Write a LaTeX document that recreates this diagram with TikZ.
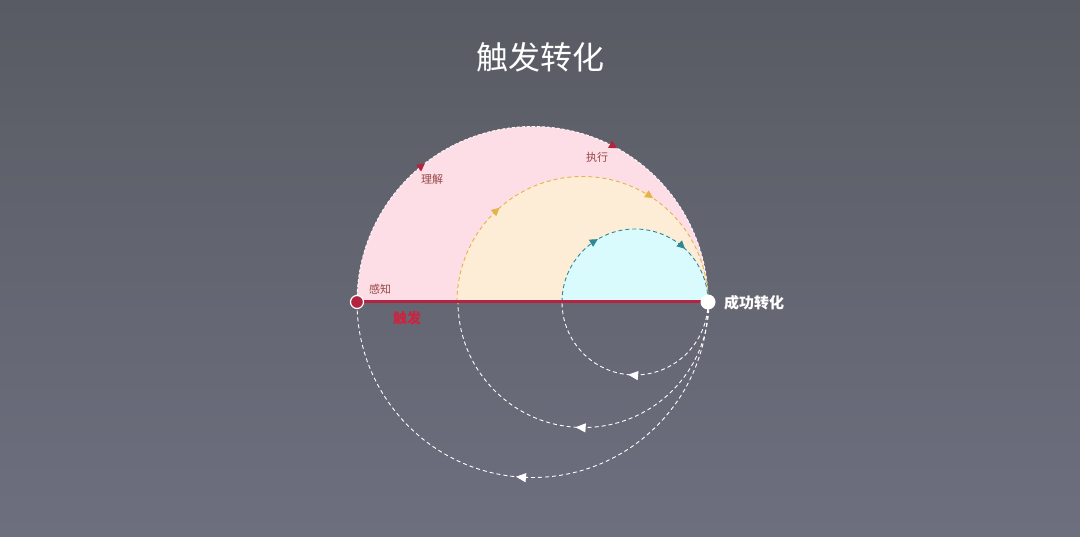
\documentclass[tikz,border=0pt]{standalone}
\usepackage{fontspec}
\setmainfont{Noto Sans CJK SC}
\usetikzlibrary{decorations.markings,arrows.meta}
\definecolor{bgtop}{RGB}{89,91,99}
\definecolor{bgbot}{RGB}{109,111,127}
\definecolor{pinkf}{RGB}{253,222,230}
\definecolor{yelf}{RGB}{253,237,214}
\definecolor{cyanf}{RGB}{218,251,253}
\definecolor{crim}{RGB}{178,36,64}
\definecolor{gold}{RGB}{228,180,70}
\definecolor{teal}{RGB}{50,135,150}
\definecolor{lbl}{RGB}{150,70,70}
\definecolor{redtxt}{RGB}{205,35,65}
\tikzset{
  x=1pt,y=1pt,
  upmark/.style n args={3}{postaction={decorate},decoration={markings,
     mark=at position #2 with {\arrow[#1]{Triangle[length=8pt,width=8pt]}},
     mark=at position #3 with {\arrow[#1]{Triangle[length=8pt,width=8pt]}}}},
  lowmark/.style={postaction={decorate},decoration={markings,
     mark=at position #1 with {\arrow[white]{Triangle[length=10pt,width=9pt]}}}},
  retarc/.style={draw=white,dashed,line width=0.9pt,dash pattern=on 4pt off 3pt},
  lab/.style={font=\fontsize{11}{11}\selectfont,text=lbl,inner sep=0pt}
}
\begin{document}
\begin{tikzpicture}
\useasboundingbox (0,0) rectangle (1080,537);
\shade[top color=bgtop,bottom color=bgbot] (0,0) rectangle (1080,537);
% fills
\fill[pinkf] (357,235) arc[start angle=180,end angle=0,radius=175.5] -- cycle;
\fill[yelf] (457,235) arc[start angle=180,end angle=0,radius=125.5] -- cycle;
\fill[cyanf] (562,235) arc[start angle=180,end angle=0,radius=73] -- cycle;
% coordinates
\coordinate (L1) at (357,235);
\coordinate (L2) at (457,235);
\coordinate (L3) at (562,235);
\coordinate (R) at (708,235);
% upper arcs
\draw[white!85!pinkf,dashed,dash pattern=on 3pt off 2pt,line width=0.9pt,upmark={crim}{0.29}{0.66}] (L1) arc[start angle=180,end angle=0,radius=175.5];
\draw[gold,dashed,dash pattern=on 4pt off 3pt,line width=0.9pt,upmark={gold}{0.27}{0.69}] (L2) arc[start angle=180,end angle=0,radius=125.5];
\draw[teal,dashed,dash pattern=on 4pt off 3pt,line width=0.9pt,upmark={teal}{0.33}{0.74}] (L3) arc[start angle=180,end angle=0,radius=73];
% lower return arcs
\draw[retarc,lowmark=0.53] (R) arc[start angle=0,end angle=-180,radius=73];
\draw[retarc,lowmark=0.52] ([xshift=1pt]R) arc[start angle=0,end angle=-180,radius=125.5];
\draw[retarc,lowmark=0.53] ([xshift=0pt]R) arc[start angle=0,end angle=-180,radius=175.5];
% base line
\draw[crim,line width=3pt] (L1) -- (R);
\node[circle,fill=crim,draw=white,line width=1.2pt,minimum size=13pt,inner sep=0pt] (p1) at (L1) {};
\node[circle,fill=white,minimum size=15pt,inner sep=0pt] (p2) at (R) {};
% labels
\node[lab] (t1) at (380,248) {感知};
\node[lab] (t2) at (432,358) {理解};
\node[lab] (t3) at (597,380) {执行};
\node[font=\fontsize{15}{15}\selectfont\bfseries,text=white,anchor=west,inner sep=0pt] (t4) at (724,234) {成功转化};
\node[font=\fontsize{14}{14}\selectfont\bfseries,text=redtxt,inner sep=0pt] (t5) at (407,219) {触发};
\node[font=\fontsize{32}{32}\selectfont,text=white,inner sep=0pt] (title) at (540,480) {触发转化};
\end{tikzpicture}
\end{document}
